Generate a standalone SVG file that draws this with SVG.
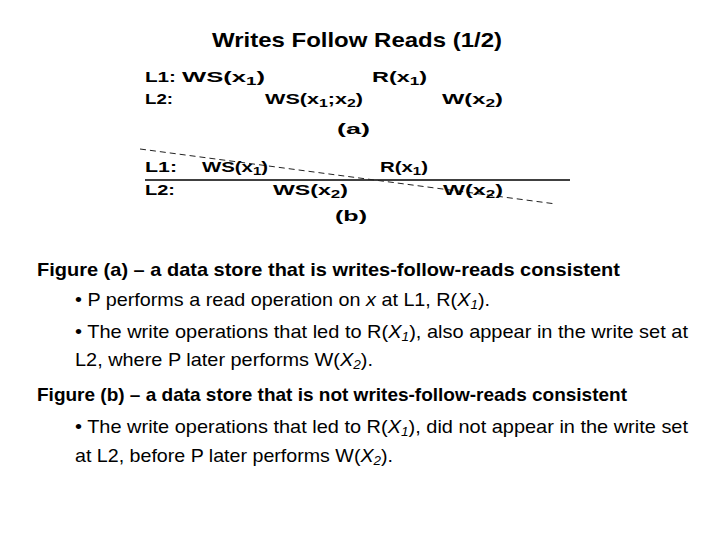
<svg xmlns="http://www.w3.org/2000/svg" width="720" height="540" viewBox="0 0 720 540">
<style>
.t{font-family:"Liberation Sans",Arial,sans-serif;fill:#000}
.lab{font-family:"Liberation Sans",Arial,sans-serif;font-weight:bold;font-size:15px;fill:#000}
.sub{font-size:11px}
.body{font-family:"Liberation Sans",Arial,sans-serif;font-size:19px;fill:#000}
.b{font-weight:bold}
.i{font-style:italic}
.s{font-size:13px;font-style:italic}
</style>
<rect width="720" height="540" fill="#fff"/>
<text class="t" x="212" y="47" font-size="21" font-weight="bold" textLength="290" lengthAdjust="spacingAndGlyphs">Writes Follow Reads (1/2)</text>

<g id="figure-a">
<text class="lab" x="145" y="82" textLength="31" lengthAdjust="spacingAndGlyphs">L1:</text>
<text class="lab" x="182" y="82" textLength="83" lengthAdjust="spacingAndGlyphs">WS(x<tspan class="sub" dy="3">1</tspan><tspan dy="-3">)</tspan></text>
<text class="lab" x="372" y="82" textLength="55" lengthAdjust="spacingAndGlyphs">R(x<tspan class="sub" dy="3">1</tspan><tspan dy="-3">)</tspan></text>
<text class="lab" x="145" y="104" textLength="28" lengthAdjust="spacingAndGlyphs">L2:</text>
<text class="lab" x="265" y="104" textLength="98" lengthAdjust="spacingAndGlyphs">WS(x<tspan class="sub" dy="3">1</tspan><tspan dy="-3">;x</tspan><tspan class="sub" dy="3">2</tspan><tspan dy="-3">)</tspan></text>
<text class="lab" x="442" y="104" textLength="61" lengthAdjust="spacingAndGlyphs">W(x<tspan class="sub" dy="3">2</tspan><tspan dy="-3">)</tspan></text>
<text class="lab" x="337" y="134" textLength="33" lengthAdjust="spacingAndGlyphs">(a)</text>
</g>

<g id="connectors">
<line x1="145" y1="180" x2="570" y2="180" stroke="#000" stroke-width="1.5"/>
<line x1="140" y1="149" x2="556" y2="204" stroke="#222" stroke-width="1" stroke-dasharray="6 4"/>
</g>

<g id="figure-b">
<text class="lab" x="145" y="172" textLength="32" lengthAdjust="spacingAndGlyphs">L1:</text>
<text class="lab" x="202" y="172" textLength="66" lengthAdjust="spacingAndGlyphs">WS(x<tspan class="sub" dy="3">1</tspan><tspan dy="-3">)</tspan></text>
<text class="lab" x="380" y="172" textLength="48" lengthAdjust="spacingAndGlyphs">R(x<tspan class="sub" dy="3">1</tspan><tspan dy="-3">)</tspan></text>
<text class="lab" x="145" y="195" textLength="30" lengthAdjust="spacingAndGlyphs">L2:</text>
<text class="lab" x="273" y="195" textLength="75" lengthAdjust="spacingAndGlyphs">WS(x<tspan class="sub" dy="3">2</tspan><tspan dy="-3">)</tspan></text>
<text class="lab" x="443" y="195" textLength="60" lengthAdjust="spacingAndGlyphs">W(x<tspan class="sub" dy="3">2</tspan><tspan dy="-3">)</tspan></text>
<text class="lab" x="335" y="221" textLength="32" lengthAdjust="spacingAndGlyphs">(b)</text>
</g>

<g id="description">
<text class="body b" x="37" y="276" textLength="583" lengthAdjust="spacingAndGlyphs">Figure (a) – a data store that is writes-follow-reads consistent</text>
<text class="body" x="75" y="306" textLength="415" lengthAdjust="spacingAndGlyphs">• P performs a read operation on <tspan class="i">x</tspan> at L1, R(<tspan class="i">X</tspan><tspan class="s" dy="3">1</tspan><tspan dy="-3">).</tspan></text>
<text class="body" x="75" y="338" textLength="613" lengthAdjust="spacingAndGlyphs">• The write operations that led to R(<tspan class="i">X</tspan><tspan class="s" dy="3">1</tspan><tspan dy="-3">), also appear in the write set at</tspan></text>
<text class="body" x="75" y="366" textLength="298" lengthAdjust="spacingAndGlyphs">L2, where P later performs W(<tspan class="i">X</tspan><tspan class="s" dy="3">2</tspan><tspan dy="-3">).</tspan></text>
<text class="body b" x="37" y="401" textLength="590" lengthAdjust="spacingAndGlyphs">Figure (b) – a data store that is not writes-follow-reads consistent</text>
<text class="body" x="75" y="433" textLength="613" lengthAdjust="spacingAndGlyphs">• The write operations that led to R(<tspan class="i">X</tspan><tspan class="s" dy="3">1</tspan><tspan dy="-3">), did not appear in the write set</tspan></text>
<text class="body" x="75" y="462" textLength="318" lengthAdjust="spacingAndGlyphs">at L2, before P later performs W(<tspan class="i">X</tspan><tspan class="s" dy="3">2</tspan><tspan dy="-3">).</tspan></text>
</g>
</svg>
